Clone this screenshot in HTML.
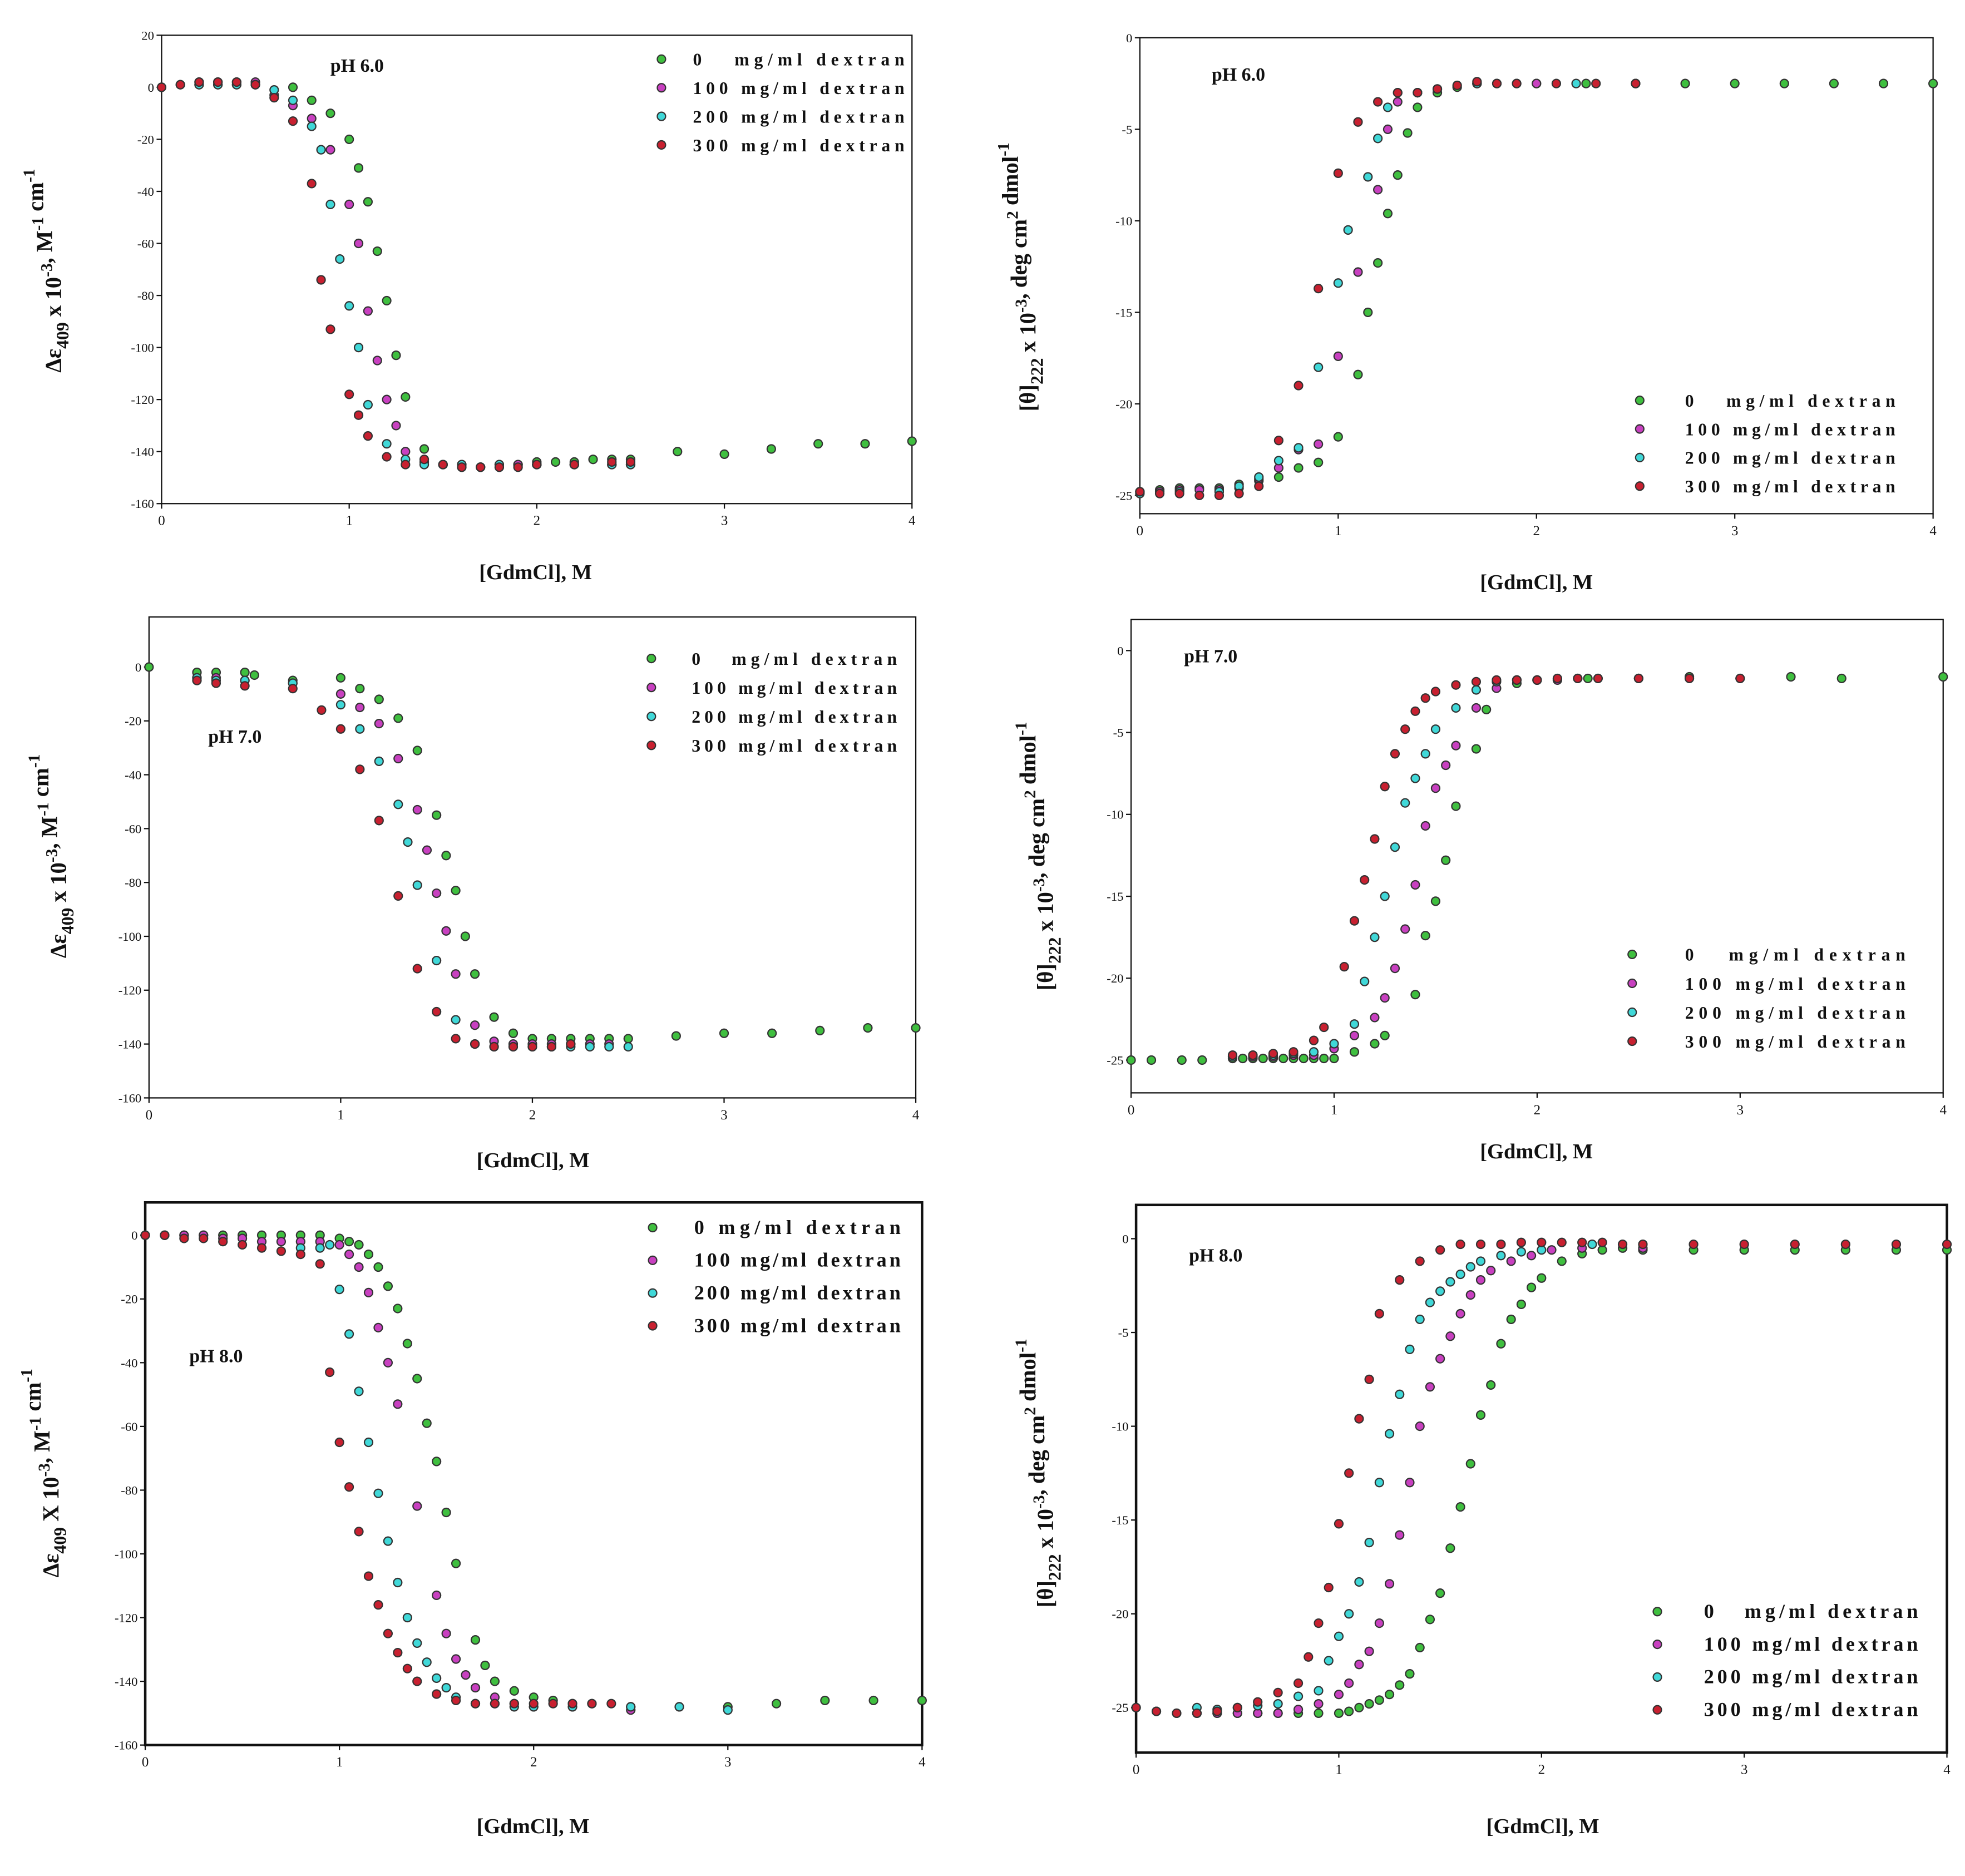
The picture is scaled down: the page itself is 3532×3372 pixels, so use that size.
<!DOCTYPE html>
<html><head><meta charset="utf-8"><style>
html,body{margin:0;padding:0;background:#fff}
svg{display:block}
text{font-family:"Liberation Serif",serif;fill:#111}
.lt{white-space:pre}
</style></head><body>
<svg id="fig" width="3532" height="3372" viewBox="0 0 1560 1490" xmlns="http://www.w3.org/2000/svg"></svg>
<script>
// ---- shared ----
const seriesNames = ["0   mg/ml dextran","100 mg/ml dextran","200 mg/ml dextran","300 mg/ml dextran"];
const seriesColors = ["#3fbf3f","#c840c0","#40d8d8","#c82030"];
const xTicks = [0,1,2,3,4];
const absTicks = [20,0,-20,-40,-60,-80,-100,-120,-140,-160];
const cdTicks = [0,-5,-10,-15,-20,-25];

// ---- Panel A: pH 6.0 absorbance ----
const aX0=[0,0.1,0.2,0.3,0.4,0.5,0.7,0.8,0.9,1.0,1.05,1.1,1.15,1.2,1.25,1.3,1.4,1.5,1.6,1.7,1.8,1.9,2.0,2.1,2.2,2.3,2.4,2.5,2.75,3.0,3.25,3.5,3.75,4.0];
const aY0=[0,1,1,1,1,1,0,-5,-10,-20,-31,-44,-63,-82,-103,-119,-139,-145,-146,-146,-145,-145,-144,-144,-144,-143,-143,-143,-140,-141,-139,-137,-137,-136];
const aX1=[0.2,0.3,0.4,0.5,0.6,0.7,0.8,0.9,1.0,1.05,1.1,1.15,1.2,1.25,1.3,1.4,1.5,1.6,1.7,1.8,1.9,2.0,2.2,2.4,2.5];
const aY1=[2,2,2,2,-3,-7,-12,-24,-45,-60,-86,-105,-120,-130,-140,-144,-145,-145,-146,-146,-145,-145,-145,-145,-145];
const aX2=[0.2,0.3,0.4,0.5,0.6,0.7,0.8,0.85,0.9,0.95,1.0,1.05,1.1,1.2,1.3,1.4,1.5,1.6,1.8,2.0,2.2,2.4,2.5];
const aY2=[1,1,1,1,-1,-5,-15,-24,-45,-66,-84,-100,-122,-137,-143,-145,-145,-145,-145,-145,-145,-145,-145];
const aX3=[0,0.1,0.2,0.3,0.4,0.5,0.6,0.7,0.8,0.85,0.9,1.0,1.05,1.1,1.2,1.3,1.4,1.5,1.6,1.7,1.8,1.9,2.0,2.2,2.4,2.5];
const aY3=[0,1,2,2,2,1,-4,-13,-37,-74,-93,-118,-126,-134,-142,-145,-143,-145,-146,-146,-146,-146,-145,-145,-144,-144];

// ---- Panel B: pH 6.0 CD ----
const bX0=[0,0.1,0.2,0.3,0.4,0.5,0.6,0.7,0.8,0.9,1.0,1.1,1.15,1.2,1.25,1.3,1.35,1.4,1.5,1.6,1.7,1.8,2.0,2.25,2.5,2.75,3.0,3.25,3.5,3.75,4.0];
const bY0=[-24.8,-24.7,-24.6,-24.6,-24.6,-24.4,-24.2,-24,-23.5,-23.2,-21.8,-18.4,-15,-12.3,-9.6,-7.5,-5.2,-3.8,-3,-2.7,-2.5,-2.5,-2.5,-2.5,-2.5,-2.5,-2.5,-2.5,-2.5,-2.5,-2.5];
const bX1=[0,0.1,0.2,0.3,0.4,0.5,0.6,0.7,0.8,0.9,1.0,1.1,1.2,1.25,1.3,1.4,1.5,1.7,2.0,2.5];
const bY1=[-24.8,-24.8,-24.7,-24.7,-24.7,-24.6,-24.1,-23.5,-22.5,-22.2,-17.4,-12.8,-8.3,-5.0,-3.5,-3,-2.8,-2.5,-2.5,-2.5];
const bX2=[0,0.2,0.4,0.5,0.6,0.7,0.8,0.9,1.0,1.05,1.15,1.2,1.25,1.3,1.4,1.5,1.7,1.9,2.2];
const bY2=[-24.9,-24.8,-24.8,-24.5,-24,-23.1,-22.4,-18,-13.4,-10.5,-7.6,-5.5,-3.8,-3,-3,-2.8,-2.5,-2.5,-2.5];
const bX3=[0,0.1,0.2,0.3,0.4,0.5,0.6,0.7,0.8,0.9,1.0,1.1,1.2,1.3,1.4,1.5,1.6,1.7,1.8,1.9,2.1,2.3,2.5];
const bY3=[-24.8,-24.9,-24.9,-25,-25,-24.9,-24.5,-22,-19,-13.7,-7.4,-4.6,-3.5,-3,-3,-2.8,-2.6,-2.4,-2.5,-2.5,-2.5,-2.5,-2.5];

// ---- Panel C: pH 7.0 absorbance ----
const cX0=[0,0.25,0.35,0.5,0.55,0.75,1.0,1.1,1.2,1.3,1.4,1.5,1.55,1.6,1.65,1.7,1.8,1.9,2.0,2.1,2.2,2.3,2.4,2.5,2.75,3.0,3.25,3.5,3.75,4.0];
const cY0=[0,-2,-2,-2,-3,-5,-4,-8,-12,-19,-31,-55,-70,-83,-100,-114,-130,-136,-138,-138,-138,-138,-138,-138,-137,-136,-136,-135,-134,-134];
const cX1=[0.25,0.35,0.5,0.75,1.0,1.1,1.2,1.3,1.4,1.45,1.5,1.55,1.6,1.7,1.8,1.9,2.0,2.1,2.2,2.3,2.4];
const cY1=[-4,-4,-5,-6,-10,-15,-21,-34,-53,-68,-84,-98,-114,-133,-139,-140,-140,-140,-140,-140,-140];
const cX2=[0.25,0.35,0.5,0.75,1.0,1.1,1.2,1.3,1.35,1.4,1.5,1.6,1.7,1.8,1.9,2.0,2.1,2.2,2.3,2.4,2.5];
const cY2=[-4,-5,-5,-6,-14,-23,-35,-51,-65,-81,-109,-131,-140,-141,-141,-141,-141,-141,-141,-141,-141];
const cX3=[0.25,0.35,0.5,0.75,0.9,1.0,1.1,1.2,1.3,1.4,1.5,1.6,1.7,1.8,1.9,2.0,2.1,2.2];
const cY3=[-5,-6,-7,-8,-16,-23,-38,-57,-85,-112,-128,-138,-140,-141,-141,-141,-141,-140];

// ---- Panel D: pH 7.0 CD ----
const dX0=[0,0.1,0.25,0.35,0.5,0.55,0.6,0.65,0.7,0.75,0.8,0.85,0.9,0.95,1.0,1.1,1.2,1.25,1.4,1.45,1.5,1.55,1.6,1.7,1.75,1.9,2.0,2.25,2.5,2.75,3.0,3.25,3.5,4.0];
const dY0=[-25,-25,-25,-25,-24.9,-24.9,-24.9,-24.9,-24.9,-24.9,-24.9,-24.9,-24.9,-24.9,-24.9,-24.5,-24,-23.5,-21,-17.4,-15.3,-12.8,-9.5,-6,-3.6,-2,-1.8,-1.7,-1.7,-1.6,-1.7,-1.6,-1.7,-1.6];
const dX1=[0.5,0.6,0.7,0.8,0.9,1.0,1.1,1.2,1.25,1.3,1.35,1.4,1.45,1.5,1.55,1.6,1.7,1.8,1.9,2.0,2.1,2.3,2.5];
const dY1=[-24.8,-24.8,-24.8,-24.7,-24.7,-24.3,-23.5,-22.4,-21.2,-19.4,-17,-14.3,-10.7,-8.4,-7,-5.8,-3.5,-2.3,-1.8,-1.8,-1.8,-1.7,-1.7];
const dX2=[0.5,0.6,0.7,0.8,0.9,1.0,1.1,1.15,1.2,1.25,1.3,1.35,1.4,1.45,1.5,1.6,1.7,1.8,1.9,2.0,2.2];
const dY2=[-24.8,-24.7,-24.7,-24.6,-24.5,-24,-22.8,-20.2,-17.5,-15,-12,-9.3,-7.8,-6.3,-4.8,-3.5,-2.4,-1.9,-1.8,-1.8,-1.7];
const dX3=[0.5,0.6,0.7,0.8,0.9,0.95,1.05,1.1,1.15,1.2,1.25,1.3,1.35,1.4,1.45,1.5,1.6,1.7,1.8,1.9,2.0,2.1,2.2,2.3,2.5,2.75,3.0];
const dY3=[-24.7,-24.7,-24.6,-24.5,-23.8,-23,-19.3,-16.5,-14,-11.5,-8.3,-6.3,-4.8,-3.7,-2.9,-2.5,-2.1,-1.9,-1.8,-1.8,-1.8,-1.7,-1.7,-1.7,-1.7,-1.7,-1.7];

// ---- Panel E: pH 8.0 absorbance ----
const eX0=[0,0.1,0.2,0.3,0.4,0.5,0.6,0.7,0.8,0.9,1.0,1.05,1.1,1.15,1.2,1.25,1.3,1.35,1.4,1.45,1.5,1.55,1.6,1.7,1.75,1.8,1.9,2.0,2.1,2.2,2.3,2.5,2.75,3.0,3.25,3.5,3.75,4.0];
const eY0=[0,0,0,0,0,0,0,0,0,0,-1,-2,-3,-6,-10,-16,-23,-34,-45,-59,-71,-87,-103,-127,-135,-140,-143,-145,-146,-147,-147,-148,-148,-148,-147,-146,-146,-146];
const eX1=[0.1,0.2,0.3,0.4,0.5,0.6,0.7,0.8,0.9,1.0,1.05,1.1,1.15,1.2,1.25,1.3,1.4,1.5,1.55,1.6,1.65,1.7,1.8,1.9,2.0,2.2,2.5];
const eY1=[0,0,0,-1,-1,-2,-2,-2,-2,-3,-6,-10,-18,-29,-40,-53,-85,-113,-125,-133,-138,-142,-145,-147,-148,-148,-149];
const eX2=[0.8,0.9,0.95,1.0,1.05,1.1,1.15,1.2,1.25,1.3,1.35,1.4,1.45,1.5,1.55,1.6,1.7,1.8,1.9,2.0,2.2,2.5,2.75,3.0];
const eY2=[-4,-4,-3,-17,-31,-49,-65,-81,-96,-109,-120,-128,-134,-139,-142,-145,-147,-147,-148,-148,-148,-148,-148,-149];
const eX3=[0,0.1,0.2,0.3,0.4,0.5,0.6,0.7,0.8,0.9,0.95,1.0,1.05,1.1,1.15,1.2,1.25,1.3,1.35,1.4,1.5,1.6,1.7,1.8,1.9,2.0,2.1,2.2,2.3,2.4];
const eY3=[0,0,-1,-1,-2,-3,-4,-5,-6,-9,-43,-65,-79,-93,-107,-116,-125,-131,-136,-140,-144,-146,-147,-147,-147,-147,-147,-147,-147,-147];

// ---- Panel F: pH 8.0 CD ----
const fX0=[0,0.1,0.2,0.3,0.4,0.5,0.6,0.7,0.8,0.9,1.0,1.05,1.1,1.15,1.2,1.25,1.3,1.35,1.4,1.45,1.5,1.55,1.6,1.65,1.7,1.75,1.8,1.85,1.9,1.95,2.0,2.1,2.2,2.3,2.4,2.5,2.75,3.0,3.25,3.5,3.75,4.0];
const fY0=[-25,-25.2,-25.3,-25.3,-25.3,-25.3,-25.3,-25.3,-25.3,-25.3,-25.3,-25.2,-25.0,-24.8,-24.6,-24.3,-23.8,-23.2,-21.8,-20.3,-18.9,-16.5,-14.3,-12.0,-9.4,-7.8,-5.6,-4.3,-3.5,-2.6,-2.1,-1.2,-0.8,-0.6,-0.5,-0.6,-0.6,-0.6,-0.6,-0.6,-0.6,-0.6];
const fX1=[0.3,0.4,0.5,0.6,0.7,0.8,0.9,1.0,1.05,1.1,1.15,1.2,1.25,1.3,1.35,1.4,1.45,1.5,1.55,1.6,1.65,1.7,1.75,1.85,1.95,2.05,2.2,2.5];
const fY1=[-25.3,-25.3,-25.3,-25.3,-25.3,-25.1,-24.8,-24.3,-23.7,-22.7,-22,-20.5,-18.4,-15.8,-13,-10,-7.9,-6.4,-5.2,-4,-3.0,-2.2,-1.7,-1.2,-0.9,-0.6,-0.5,-0.5];
const fX2=[0.3,0.4,0.5,0.6,0.7,0.8,0.9,0.95,1.0,1.05,1.1,1.15,1.2,1.25,1.3,1.35,1.4,1.45,1.5,1.55,1.6,1.65,1.7,1.8,1.9,2.0,2.25];
const fY2=[-25,-25.1,-25,-24.9,-24.8,-24.4,-24.1,-22.5,-21.2,-20,-18.3,-16.2,-13,-10.4,-8.3,-5.9,-4.3,-3.4,-2.8,-2.3,-1.9,-1.5,-1.2,-0.9,-0.7,-0.6,-0.3];
const fX3=[0,0.1,0.2,0.3,0.4,0.5,0.6,0.7,0.8,0.85,0.9,0.95,1.0,1.05,1.1,1.15,1.2,1.3,1.4,1.5,1.6,1.7,1.8,1.9,2.0,2.1,2.2,2.3,2.4,2.5,2.75,3.0,3.25,3.5,3.75,4.0];
const fY3=[-25,-25.2,-25.3,-25.3,-25.2,-25,-24.7,-24.2,-23.7,-22.3,-20.5,-18.6,-15.2,-12.5,-9.6,-7.5,-4,-2.2,-1.2,-0.6,-0.3,-0.3,-0.3,-0.2,-0.2,-0.2,-0.2,-0.2,-0.3,-0.3,-0.3,-0.3,-0.3,-0.3,-0.3,-0.3];

const NS="http://www.w3.org/2000/svg";
const svg=document.getElementById('fig');
function mk(tag,attrs,parent){const e=document.createElementNS(NS,tag);for(const k in attrs)e.setAttribute(k,attrs[k]);(parent||svg).appendChild(e);return e;}

function panel(p){
  const g=mk('g',{});
  
  
  const sx=v=>p.x0+(v-0)/(4-0)*(p.x1-p.x0);
  const sy=v=>p.y0+(p.ymax-v)/(p.ymax-p.ymin)*(p.y1-p.y0);
  const box=mk('rect',{x:p.x0,y:p.y0,width:p.x1-p.x0,height:p.y1-p.y0,fill:'none',stroke:'#111','stroke-width':p.bw},g);
  
  
  p.yt.forEach(t=>{const y=sy(t);if(y<p.y0-1||y>p.y1+1)return;
    mk('line',{x1:p.x0-4,x2:p.x0,y1:y,y2:y,stroke:'#111','stroke-width':1},g);
    const tx=mk('text',{x:p.x0-6,y:y+3.5,'font-size':10,'text-anchor':'end'},g);tx.textContent=t;
    
    });
  xTicks.forEach(t=>{const x=sx(t);
    mk('line',{x1:x,x2:x,y1:p.y1,y2:p.y1+4,stroke:'#111','stroke-width':1},g);
    const tx=mk('text',{x:x,y:p.y1+17,'font-size':11,'text-anchor':'middle'},g);tx.textContent=t;
    
    });
  p.series.forEach((s,i)=>{
    const sg=mk('g',{},g);
    
    
    s[0].forEach((xv,j)=>{
      const c=mk('circle',{cx:sx(xv),cy:sy(s[1][j]),r:3.3,fill:seriesColors[i],stroke:'#333','stroke-width':1},sg);
      
      
    });
  });
  // legend
  const lg=mk('g',{},g);
  
  
  seriesNames.forEach((n,i)=>{
    const y=p.ly[0]+i*p.ly[1];
    mk('circle',{cx:p.lx,cy:y,r:3.3,fill:seriesColors[i],stroke:'#333','stroke-width':1},lg);
    const t=mk('text',{x:p.lt[0],y:y+5,'font-size':p.lf,'font-weight':'bold',class:'lt',textLength:p.lt[1]-p.lt[0],lengthAdjust:'spacing'},lg);
    t.textContent=(p.alt&&i==0)?'0 mg/ml dextran':n;
    
    
  });
  const ph=mk('text',{x:p.ph[0],y:p.ph[1],'font-size':15,'font-weight':'bold'},g);ph.textContent=p.phText;
  
  
  const xl=mk('text',{x:p.xl[0],y:p.xl[1],'font-size':17,'font-weight':'bold','text-anchor':'middle'},g);xl.textContent='[GdmCl], M';
  
  
  const yl=mk('text',{x:0,y:0,'font-size':18,'font-weight':'bold','text-anchor':'middle',transform:`translate(${p.yl[0]},${p.yl[1]}) rotate(-90)`},g);
  
  
  yl.innerHTML=p.ylab;
}
const sub=(s)=>`<tspan dy="6" font-size="14">${s}</tspan><tspan dy="-6"> </tspan>`;
const sup=(s)=>`<tspan dy="-7" font-size="13">${s}</tspan><tspan dy="7"></tspan>`;
const absLab=(X)=>`Δε${sub('409')}${X} 10${sup('-3')}, M${sup('-1')} cm${sup('-1')}`;
const cdLab=`[θ]${sub('222')}x 10${sup('-3')}, deg cm${sup('2')} dmol${sup('-1')}`;

panel({name:'panel-ph6-absorbance',x0:128,x1:724,y0:28,y1:400,ymax:20,ymin:-160,yt:absTicks,bw:1,
  series:[[aX0,aY0],[aX1,aY1],[aX2,aY2],[aX3,aY3]],lx:525,lt:[550,718],ly:[47,22.7],lf:14,ph:[262,57],phText:'pH 6.0',xl:[425,460],yl:[48,215],ylab:absLab(' x')});
panel({name:'panel-ph6-cd',x0:905,x1:1535,y0:30,y1:408,ymax:0,ymin:-26,yt:cdTicks,bw:1,
  series:[[bX0,bY0],[bX1,bY1],[bX2,bY2],[bX3,bY3]],lx:1302,lt:[1338,1505],ly:[318,22.7],lf:14,ph:[962,64],phText:'pH 6.0',xl:[1220,468],yl:[822,220],ylab:cdLab});
panel({name:'panel-ph7-absorbance',x0:118,x1:727,y0:490,y1:872,ymax:18.6,ymin:-160,yt:absTicks,bw:1,
  series:[[cX0,cY0],[cX1,cY1],[cX2,cY2],[cX3,cY3]],lx:517,lt:[549,712],ly:[523,23],lf:14,ph:[165,590],phText:'pH 7.0',xl:[423,927],yl:[52,680],ylab:absLab(' x')});
panel({name:'panel-ph7-cd',x0:898,x1:1543,y0:492,y1:868,ymax:1.9,ymin:-27,yt:cdTicks,bw:1,
  series:[[dX0,dY0],[dX1,dY1],[dX2,dY2],[dX3,dY3]],lx:1296,lt:[1338,1513],ly:[758,23],lf:14,ph:[940,526],phText:'pH 7.0',xl:[1220,920],yl:[836,680],ylab:cdLab});
panel({name:'panel-ph8-absorbance',x0:115,x1:732,y0:955,y1:1386,ymax:10.3,ymin:-160,yt:absTicks,bw:2,
  series:[[eX0,eY0],[eX1,eY1],[eX2,eY2],[eX3,eY3]],lx:518,lt:[551,715],ly:[975,26],lf:16,alt:true,ph:[150,1082],phText:'pH 8.0',xl:[423,1456],yl:[46,1170],ylab:absLab(' X')});
panel({name:'panel-ph8-cd',x0:902,x1:1546,y0:957,y1:1392,ymax:1.8,ymin:-27.4,yt:cdTicks,bw:2,
  series:[[fX0,fY0],[fX1,fY1],[fX2,fY2],[fX3,fY3]],lx:1316,lt:[1353,1523],ly:[1280,26],lf:16,ph:[944,1002],phText:'pH 8.0',xl:[1225,1456],yl:[836,1170],ylab:cdLab});
</script>
</body></html>
